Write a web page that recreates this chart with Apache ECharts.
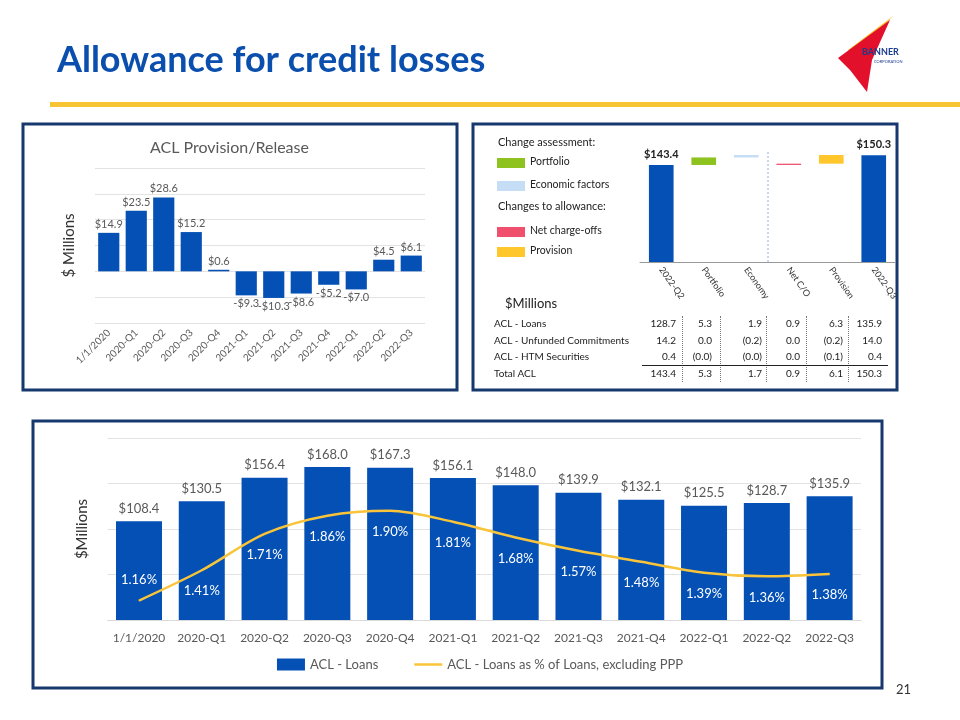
<!DOCTYPE html>
<html><head><meta charset="utf-8">
<script src="https://cdn.jsdelivr.net/npm/echarts@6/dist/echarts.min.js"></script>
<style>
body{margin:0;background:#fff;font-family:Lato,"Open Sans",sans-serif}
#c{position:absolute;left:0;top:0;width:960px;height:720px}
#tbl{position:absolute;left:0;top:0;width:960px;height:720px;pointer-events:none;font-size:10px;color:#222}
.cell{position:absolute;white-space:nowrap}
</style></head><body>
<div id="c"></div><div id="tbl"></div>
<script>
// ---- data ----
const provCats=['1/1/2020','2020-Q1','2020-Q2','2020-Q3','2020-Q4','2021-Q1','2021-Q2','2021-Q3','2021-Q4','2022-Q1','2022-Q2','2022-Q3'];
const provVals=[14.9,23.5,28.6,15.2,0.6,-9.3,-10.3,-8.6,-5.2,-7.0,4.5,6.1];
const wfCats=['2022-Q2','Portfolio','Economy','Net C/O','Provision','2022-Q3'];
const wfBase=[0,143.4,148.7,143.4,144.3,0];
const wfDelta=[143.4,5.3,1.7,0.9,6.1,150.3];
const tblRows=['ACL - Loans','ACL - Unfunded Commitments','ACL - HTM Securities','Total ACL'];
const tblVals=[
 ['128.7','5.3','1.9','0.9','6.3','135.9'],
 ['14.2','0.0','(0.2)','0.0','(0.2)','14.0'],
 ['0.4','(0.0)','(0.0)','0.0','(0.1)','0.4'],
 ['143.4','5.3','1.7','0.9','6.1','150.3']];
const aclCats=provCats;
const aclLoans=[108.4,130.5,156.4,168.0,167.3,156.1,148.0,139.9,132.1,125.5,128.7,135.9];
const aclPct=[1.16,1.41,1.71,1.86,1.90,1.81,1.68,1.57,1.48,1.39,1.36,1.38];

const BLUE='#0450b4', NAVY='#16386f', GRAY='#595959', F='Lato';
const wfColors=[BLUE,'#8dc21f','#c6ddf6','#f0506e','#ffc72c',BLUE];

// table
const tb=document.getElementById('tbl');
const colR=[676,712,762,800,843,882];
const rowY=[317,334,350,367];
let h='<div class="cell" style="left:505px;top:295px;font-size:13px">$Millions</div>';
tblRows.forEach((r,i)=>{
  h+=`<div class="cell" style="left:494px;top:${rowY[i]}px">${r}</div>`;
  tblVals[i].forEach((v,j)=>{h+=`<div class="cell" style="left:${colR[j]-60}px;width:60px;text-align:right;top:${rowY[i]}px">${v}</div>`;});
});
[682,720,766,806,848].forEach(x=>{h+=`<div class="cell" style="left:${x}px;top:316px;height:66px;border-left:1px dotted #777"></div>`;});
h+='<div class="cell" style="left:642px;top:365px;width:246px;border-top:1px solid #222"></div>';
tb.innerHTML=h;

const chart=echarts.init(document.getElementById('c'));
const pctPos=['top','bottom','bottom','bottom','bottom','bottom','bottom','bottom','bottom','bottom','bottom','bottom'];
const legendItems=[
 {t:'Change assessment:',y:144,c:null},{t:'Portfolio',y:163,c:wfColors[1]},{t:'Economic factors',y:186,c:wfColors[2]},
 {t:'Changes to allowance:',y:208,c:null},{t:'Net charge-offs',y:232,c:wfColors[3]},{t:'Provision',y:252,c:wfColors[4]}];
const g=[
 {type:'text',left:57,top:42,style:{text:'Allowance for credit losses',font:'bold 36px '+F,fill:'#0a4fae'}},
 {type:'rect',shape:{x:50,y:102,width:910,height:5},style:{fill:'#f7c433'}},
 {type:'polygon',shape:{points:[[848,50],[893,16],[880,30],[858,60]]},style:{fill:'#f7c433'}},
 {type:'polygon',shape:{points:[[838,58],[890,20],[872,60],[867,92],[850,70]]},style:{fill:'#e3102b'}},
 {type:'text',left:862,top:48,style:{text:'BANNER',font:'bold 9px '+F,fill:'#1a3c8c'}},
 {type:'text',left:874,top:60,style:{text:'CORPORATION',font:'4px '+F,fill:'#1a3c8c'}},
 {type:'rect',shape:{x:23,y:124,width:434,height:266},style:{fill:'none',stroke:NAVY,lineWidth:3}},
 {type:'rect',shape:{x:473,y:124,width:424,height:266},style:{fill:'none',stroke:NAVY,lineWidth:3}},
 {type:'rect',shape:{x:33,y:421,width:849,height:267},style:{fill:'none',stroke:NAVY,lineWidth:3}},
 {type:'text',left:896,top:683,style:{text:'21',font:'13px '+F,fill:'#333'}},
 {type:'text',left:150,top:140,style:{text:'ACL Provision/Release',font:'16px '+F,fill:GRAY}},
 {type:'line',shape:{x1:768,y1:152,x2:768,y2:262},style:{stroke:'#8fb0d8',lineDash:[2,2],lineWidth:1}}
];
legendItems.forEach(l=>{
  if(l.c){g.push({type:'rect',shape:{x:497,y:l.y-5,width:28,height:10},style:{fill:l.c}});
    g.push({type:'text',left:530,top:l.y-7,style:{text:l.t,font:'10.5px '+F,fill:'#222'}});}
  else g.push({type:'text',left:498,top:l.y-7,style:{text:l.t,font:'11px '+F,fill:'#222'}});
});

chart.setOption({
 animation:false,textStyle:{fontFamily:F},graphic:g,
 grid:[{left:95,right:535,top:168,height:155},{left:640,right:65,top:148.5,height:113.5},{left:107.6,right:99,top:438,height:182}],
 legend:{bottom:44,left:'center',itemWidth:28,itemHeight:12,itemGap:36,textStyle:{fontSize:13,color:GRAY,fontFamily:F},
   data:[{name:'ACL - Loans',icon:'rect'},{name:'ACL - Loans as % of Loans, excluding PPP',icon:'path://M0,5h28v2.5h-28z'}]},
 xAxis:[
  {gridIndex:0,type:'category',data:provCats,axisLine:{show:false},axisTick:{show:false},axisLabel:{rotate:45,fontSize:10,color:GRAY,interval:0,margin:8}},
  {gridIndex:1,type:'category',data:wfCats,axisLine:{lineStyle:{color:'#999'}},axisTick:{show:false},axisLabel:{rotate:-55,fontSize:9,color:'#333',interval:0,margin:6,align:'left'}},
  {gridIndex:2,type:'category',data:aclCats,axisLine:{lineStyle:{color:'#d9d9d9'}},axisTick:{show:false},axisLabel:{fontSize:12,color:GRAY,interval:0,margin:12}}],
 yAxis:[
  {gridIndex:0,min:-20,max:40,interval:10,axisLabel:{show:false},splitLine:{lineStyle:{color:'#e3e3e3'}},name:'$ Millions',nameLocation:'middle',nameGap:18,nameTextStyle:{fontSize:15,color:'#333'}},
  {gridIndex:1,min:75,max:155,show:false,splitLine:{show:false}},
  {gridIndex:2,min:0,max:200,interval:50,axisLabel:{show:false},splitLine:{lineStyle:{color:'#e3e3e3'}},name:'$Millions',nameLocation:'middle',nameGap:18,nameTextStyle:{fontSize:15,color:'#333'}},
  {gridIndex:2,min:1.0,max:2.5,show:false,splitLine:{show:false}}],
 series:[
  {type:'bar',xAxisIndex:0,yAxisIndex:0,barWidth:'77%',itemStyle:{color:BLUE},
   data:provVals.map(v=>({value:v,label:{position:v>=0?'top':'bottom'}})),
   label:{show:true,fontSize:11,color:GRAY,distance:3,formatter:p=>(p.value<0?'-$':'$')+Math.abs(p.value).toFixed(1)}},
  {type:'bar',xAxisIndex:1,yAxisIndex:1,stack:'w',barWidth:'58%',itemStyle:{color:'transparent'},data:wfBase,silent:true},
  {type:'bar',xAxisIndex:1,yAxisIndex:1,stack:'w',barWidth:'58%',
   data:wfDelta.map((v,i)=>({value:v,itemStyle:{color:wfColors[i]},label:{show:i===0||i===wfDelta.length-1}})),
   label:{position:'top',fontSize:11,color:'#222',fontWeight:'bold',formatter:p=>'$'+p.value.toFixed(1)}},
  {name:'ACL - Loans',type:'bar',xAxisIndex:2,yAxisIndex:2,barWidth:46,itemStyle:{color:BLUE},data:aclLoans,
   label:{show:true,position:'top',fontSize:13,color:GRAY,distance:6,formatter:p=>'$'+p.value.toFixed(1)}},
  {name:'ACL - Loans as % of Loans, excluding PPP',type:'line',xAxisIndex:2,yAxisIndex:3,symbol:'circle',symbolSize:1,showSymbol:true,smooth:0.3,
   lineStyle:{color:'#f9c439',width:2.5},itemStyle:{color:'#f9c439'},z:5,
   data:aclPct.map((v,i)=>({value:v,label:{position:pctPos[i]}})),
   label:{show:true,fontSize:13,color:'#fff',distance:14,formatter:p=>p.value.toFixed(2)+'%'},labelLayout:{hideOverlap:false}}
 ]
});
</script></body></html>
